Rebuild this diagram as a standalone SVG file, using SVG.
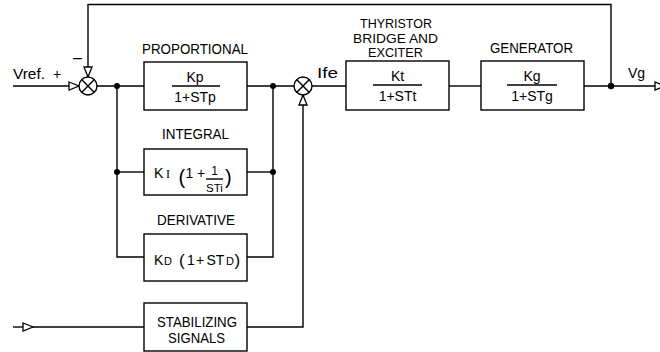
<svg xmlns="http://www.w3.org/2000/svg" width="660" height="352" viewBox="0 0 660 352">
<defs>
<style>
text{font-family:"Liberation Sans",Arial,sans-serif;fill:#000;}
.h{font-size:15.5px;text-anchor:middle;}
.h2{font-size:13px;text-anchor:middle;}
.f{font-size:14px;text-anchor:middle;}
.t{font-size:14px;}
.box{fill:#fff;stroke:#000;stroke-width:1.4;}
.ln{fill:none;stroke:#000;stroke-width:1.4;}
.dot{fill:#000;}
.sum{fill:#fff;stroke:#000;stroke-width:1.4;}
</style>
<marker id="arr" markerUnits="userSpaceOnUse" markerWidth="12" markerHeight="10" refX="10" refY="4" orient="auto" viewBox="-1 -1 12 10">
<path d="M0,0 L10,4 L0,8 Z" fill="#fff" stroke="#000" stroke-width="1.3"/>
</marker>
</defs>
<rect width="660" height="352" fill="#fff"/>

<g id="connectors">
<line class="ln" x1="13" y1="86" x2="79" y2="86" marker-end="url(#arr)"/>
<polyline class="ln" points="611,86 611,4.5 88,4.5 88,77" marker-end="url(#arr)"/>
<line class="ln" x1="97" y1="86" x2="144" y2="86"/>
<line class="ln" x1="247" y1="86" x2="294" y2="86"/>
<line class="ln" x1="312" y1="86" x2="346" y2="86"/>
<line class="ln" x1="449" y1="86" x2="481" y2="86"/>
<line class="ln" x1="584" y1="86" x2="665" y2="86" marker-end="url(#arr)"/>
<polyline class="ln" points="117,86 117,257 144,257"/>
<line class="ln" x1="117" y1="172" x2="144" y2="172"/>
<polyline class="ln" points="273,86 273,257 247,257"/>
<line class="ln" x1="247" y1="172" x2="273" y2="172"/>
<line class="ln" x1="13" y1="327" x2="33" y2="327" marker-end="url(#arr)"/>
<line class="ln" x1="33" y1="327" x2="144" y2="327"/>
<polyline class="ln" points="247,327 303,327 303,95" marker-end="url(#arr)"/>
<circle class="dot" cx="117" cy="86" r="3"/>
<circle class="dot" cx="117" cy="172" r="3"/>
<circle class="dot" cx="273" cy="86" r="3"/>
<circle class="dot" cx="273" cy="172" r="3"/>
<circle class="dot" cx="611" cy="86" r="3.2"/>
<text class="t" x="13" y="79" textLength="32" lengthAdjust="spacingAndGlyphs">Vref.</text>
<text class="t" x="53" y="79">+</text>
<text class="t" x="73" y="63" style="font-size:16px">–</text>
<text class="t" x="317" y="78" textLength="21" lengthAdjust="spacingAndGlyphs">Ife</text>
<text class="t" x="628" y="78">Vg</text>
</g>

<g id="n-sum1">
<circle class="sum" cx="88" cy="86" r="9"/>
<path class="ln" d="M81.6,79.6 L94.4,92.4 M94.4,79.6 L81.6,92.4"/>
</g>

<g id="n-sum2">
<circle class="sum" cx="303" cy="86" r="9"/>
<path class="ln" d="M296.6,79.6 L309.4,92.4 M309.4,79.6 L296.6,92.4"/>
</g>

<g id="n-prop">
<text class="h" x="195" y="54" textLength="106" lengthAdjust="spacingAndGlyphs">PROPORTIONAL</text>
<rect class="box" x="144" y="62" width="103" height="48"/>
<text class="f" x="195" y="82">Kp</text>
<line class="ln" x1="172" y1="86" x2="220" y2="86"/>
<text class="f" x="195" y="102">1+STp</text>
</g>

<g id="n-int">
<text class="h" x="195.5" y="139" textLength="67" lengthAdjust="spacingAndGlyphs">INTEGRAL</text>
<rect class="box" x="144" y="149" width="103" height="46"/>
<text class="t" x="154" y="178">K</text>
<text x="166" y="178" style="font-family:'Liberation Serif',serif;font-size:12px">I</text>
<text x="178.5" y="184" style="font-size:20px">(</text>
<text class="t" x="185.5" y="178">1</text>
<text class="t" x="197" y="178">+</text>
<text x="214.5" y="175" style="font-size:12px;text-anchor:middle">1</text>
<line class="ln" x1="206" y1="179" x2="223" y2="179"/>
<text x="214.5" y="192" style="font-size:11.5px;text-anchor:middle">STi</text>
<text x="225" y="184" style="font-size:20px">)</text>
</g>

<g id="n-der">
<text class="h" x="196" y="225" textLength="78" lengthAdjust="spacingAndGlyphs">DERIVATIVE</text>
<rect class="box" x="144" y="234" width="103" height="47"/>
<text class="t" x="154" y="265">K</text>
<text x="164" y="265" style="font-size:11px">D</text>
<text x="179" y="266" style="font-size:17px">(</text>
<text class="t" x="187" y="265">1</text>
<text class="t" x="196" y="265">+</text>
<text class="t" x="206.5" y="265">ST</text>
<text x="226" y="265" style="font-size:11px">D</text>
<text x="234.5" y="266" style="font-size:17px">)</text>
</g>

<g id="n-stab">
<rect class="box" x="144" y="303" width="103" height="48"/>
<text class="h" x="197" y="327" textLength="80" lengthAdjust="spacingAndGlyphs">STABILIZING</text>
<text class="h" x="196.5" y="343" textLength="57" lengthAdjust="spacingAndGlyphs">SIGNALS</text>
</g>

<g id="n-thy">
<text class="h2" x="396" y="28" textLength="72" lengthAdjust="spacingAndGlyphs">THYRISTOR</text>
<text class="h2" x="395.5" y="42.5" textLength="85" lengthAdjust="spacingAndGlyphs">BRIDGE AND</text>
<text class="h2" x="395.5" y="57" textLength="55" lengthAdjust="spacingAndGlyphs">EXCITER</text>
<rect class="box" x="346" y="61" width="103" height="49"/>
<text class="f" x="397.5" y="80.5">Kt</text>
<line class="ln" x1="373" y1="85" x2="422" y2="85"/>
<text class="f" x="397.5" y="101">1+STt</text>
</g>

<g id="n-gen">
<text class="h" x="531.5" y="53" textLength="83" lengthAdjust="spacingAndGlyphs">GENERATOR</text>
<rect class="box" x="481" y="61" width="103" height="49"/>
<text class="f" x="532" y="80.5">Kg</text>
<line class="ln" x1="507" y1="85" x2="557" y2="85"/>
<text class="f" x="532" y="101">1+STg</text>
</g>
</svg>
